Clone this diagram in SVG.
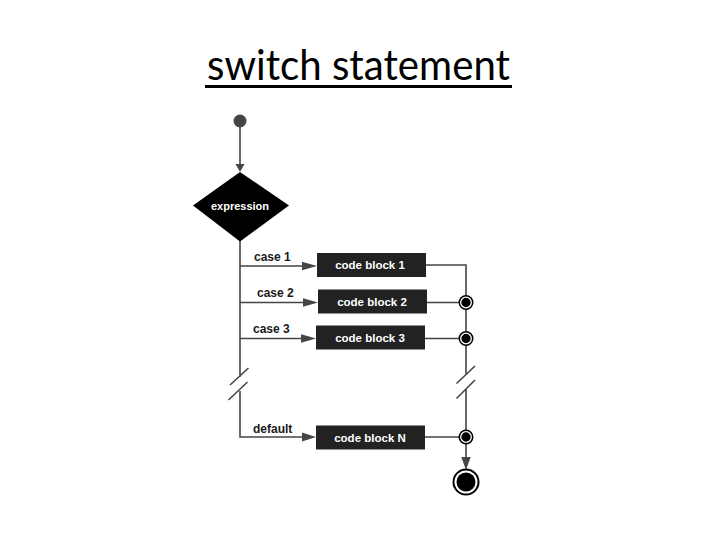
<svg xmlns="http://www.w3.org/2000/svg" width="720" height="540" viewBox="0 0 720 540">
<style>
.ln{stroke:#454545;stroke-width:1.6;fill:none}
.ah{fill:#454545}
.blk{fill:#222222}
.bt{font-family:"Liberation Sans",Arial,sans-serif;font-size:11.5px;font-weight:bold;fill:#ffffff;text-anchor:middle}
.lbl{font-family:"Liberation Sans",Arial,sans-serif;font-size:12px;font-weight:bold;fill:#1a1a1a}
.title{font-family:Lato,"Open Sans",sans-serif;font-size:42px;fill:#000000;text-anchor:middle}
</style>
<defs>
<g id="junc"><circle r="7.5" fill="#000"/><circle r="5.3" fill="#000" stroke="#fff" stroke-width="1.3"/></g>
</defs>
<rect width="720" height="540" fill="#ffffff"/>
<g id="title">
<text class="title" x="358.5" y="80" textLength="303" lengthAdjust="spacingAndGlyphs">switch statement</text>
<rect x="205" y="85" width="307" height="3" fill="#000"/>
</g>
<g id="connectors">
<path class="ln" d="M240,121 V165"/>
<polygon class="ah" points="235.5,164 244.5,164 240,172"/>
<path class="ln" d="M240,241 V377 M230,385 L248.5,368 M228.5,400 L247.5,382 M240,391 V437 H303"/>
<polygon class="ah" points="302,432.5 302,441.5 316,437"/>
<path class="ln" d="M240,266 H303"/>
<polygon class="ah" points="302,261.7 302,270.3 317,266"/>
<path class="ln" d="M240,302.5 H304"/>
<polygon class="ah" points="303,298.2 303,306.8 318,302.5"/>
<path class="ln" d="M240,338.5 H302"/>
<polygon class="ah" points="301,334.2 301,342.8 316,338.5"/>
<path class="ln" d="M426,265 H466 V375 M456.5,383.5 L475,366 M456.5,398.5 L475,380 M466,389 V459"/>
<path class="ln" d="M427,302.5 H466 M425,338.5 H466 M425,437 H466"/>
<polygon class="ah" points="461.3,457 470.7,457 466,470"/>
</g>
<g id="start"><circle cx="240" cy="121" r="6.5" fill="#454545"/></g>
<g id="expression">
<polygon points="240,172 289,205.5 240,241.5 193,205.5" fill="#000"/>
<text class="bt" x="240" y="209.5" style="font-size:11px">expression</text>
</g>
<g id="case1"><text class="lbl" x="254" y="261">case 1</text></g>
<g id="case2"><text class="lbl" x="257" y="297">case 2</text></g>
<g id="case3"><text class="lbl" x="253" y="333">case 3</text></g>
<g id="default"><text class="lbl" x="253" y="432.5">default</text></g>
<g id="block1"><rect class="blk" x="317" y="253" width="109" height="24"/><text class="bt" x="370" y="269">code block 1</text></g>
<g id="block2"><rect class="blk" x="318" y="289.5" width="109" height="24"/><text class="bt" x="372" y="305.5">code block 2</text></g>
<g id="block3"><rect class="blk" x="316" y="325.5" width="109" height="24"/><text class="bt" x="370" y="341.5">code block 3</text></g>
<g id="blockN"><rect class="blk" x="316" y="425.5" width="109" height="24"/><text class="bt" x="370" y="441.5">code block N</text></g>
<g id="j2"><use href="#junc" x="466" y="302.5"/></g>
<g id="j3"><use href="#junc" x="466" y="338.5"/></g>
<g id="jN"><use href="#junc" x="466" y="437"/></g>
<g id="end"><circle cx="466" cy="482" r="13.5" fill="#000"/><circle cx="466" cy="482" r="11.5" fill="#fff"/><circle cx="466" cy="482" r="9.5" fill="#000"/></g>
</svg>
